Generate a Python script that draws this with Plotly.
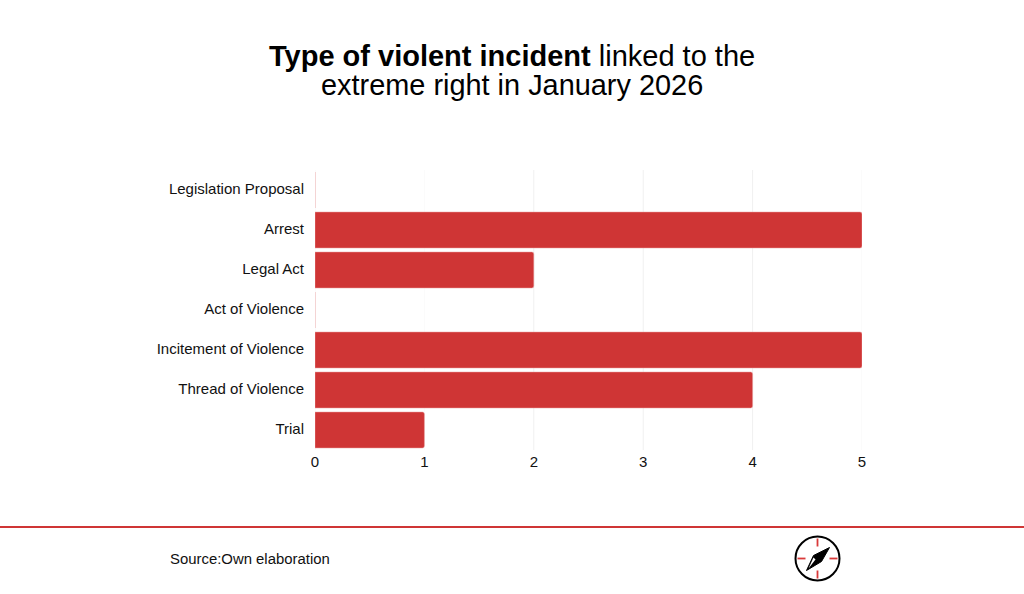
import plotly.graph_objects as go

categories = ['Legislation Proposal', 'Arrest', 'Legal Act', 'Act of Violence',
              'Incitement of Violence', 'Thread of Violence', 'Trial']
values = [0, 5, 2, 0, 5, 4, 1]
x_ticks = [0, 1, 2, 3, 4, 5]
grid_colors = ['#f7f7f7', '#fbfbfb', '#f0f0f0', '#f0f0f0', '#f0f0f0', '#f6f6f6']

W, H = 1024, 594
LEFT, RIGHT, TOP, BOTTOM = 315, 862, 170, 450
RED = '#cf3535'
FONT = 'Liberation Sans'
INK = '#111111'


def px(x):
    return (x - LEFT) / (RIGHT - LEFT)


def py(y):
    return (BOTTOM - y) / (BOTTOM - TOP)


def text(x, y, s, size):
    fig.add_annotation(x=px(x), y=py(y), xref='paper', yref='paper', text=s, showarrow=False,
                       font=dict(size=size, color='#000000', family=FONT),
                       xanchor='center', yanchor='middle')


def line(x0, y0, x1, y1, color, width):
    fig.add_shape(type='line', xref='paper', yref='paper', x0=px(x0), y0=py(y0), x1=px(x1), y1=py(y1),
                  line=dict(color=color, width=width), layer='above')


fig = go.Figure()
fig.add_trace(go.Bar(
    y=categories, x=values, orientation='h',
    width=0.9,
    marker=dict(color=RED, cornerradius=2, line=dict(color='#e9a0a0', width=0.5)),
    hoverinfo='skip'
))
fig.update_layout(
    width=W, height=H,
    margin=dict(l=LEFT, r=W - RIGHT, t=TOP, b=H - BOTTOM, autoexpand=False),
    paper_bgcolor='#ffffff', plot_bgcolor='#ffffff',
    showlegend=False,
    font=dict(family=FONT, size=15, color=INK),
    xaxis=dict(range=[0, 5], tickvals=x_ticks, showgrid=False,
               zeroline=False, showline=False, ticks='', ticklabelstandoff=1),
    yaxis=dict(categoryorder='array', categoryarray=categories[::-1], showgrid=False,
               zeroline=False, showline=False, ticks='', ticklabelstandoff=10,
               ticklabelshift=-1),
)

# grid drawn by hand, the lines are not all the same strength in the original
for t, c in zip(x_ticks, grid_colors):
    fig.add_shape(type='line', xref='x', yref='paper', x0=t, x1=t, y0=0, y1=1,
                  line=dict(color=c, width=1), layer='below')

# titulo en dos annotations, el interlineado de plotly es demasiado grande
text(512, 56, '<b>Type of violent incident</b> linked to the', 29)
text(512, 85, 'extreme right in January 2026', 28.9)
fig.add_annotation(x=px(167.5), y=py(558.5), xref='paper', yref='paper', text='Source:Own elaboration',
                   showarrow=False, xanchor='left', yanchor='middle',
                   font=dict(size=14.9, color=INK, family=FONT))

# footer line
line(0, 527, W, 527, RED, 2)

# compass logo
cx, cy = 817.5, 558.5
fig.add_shape(type='circle', xref='paper', yref='paper', x0=px(cx - 22), y0=py(cy + 22),
              x1=px(cx + 22), y1=py(cy - 22), line=dict(color='#000000', width=2), fillcolor='#ffffff')
for a, b, c, d in [(0, -20, 0, -12), (0, 12, 0, 20), (-20, 0, -12, 0), (12, 0, 20, 0)]:
    line(cx + a, cy + b, cx + c, cy + d, '#d93a3a', 1.8)
needle = [(12, -11), (4, 3), (-11, 12), (-4, -3)]
path = 'M ' + ' L '.join(f'{px(cx + a)} {py(cy + b)}' for a, b in needle) + ' Z'
fig.add_shape(type='path', xref='paper', yref='paper', path=path, fillcolor='#000000',
              line=dict(color='#000000', width=1), layer='above')
inner = [(-9, 10), (-2, 1), (-4, -1)]
path = 'M ' + ' L '.join(f'{px(cx + a)} {py(cy + b)}' for a, b in inner) + ' Z'
fig.add_shape(type='path', xref='paper', yref='paper', path=path, fillcolor='#ffffff',
              line=dict(width=0), layer='above')

fig.write_html("out.html", config=dict(displayModeBar=False),
               post_script="document.body.style.margin='0';document.documentElement.style.overflow='hidden';")
